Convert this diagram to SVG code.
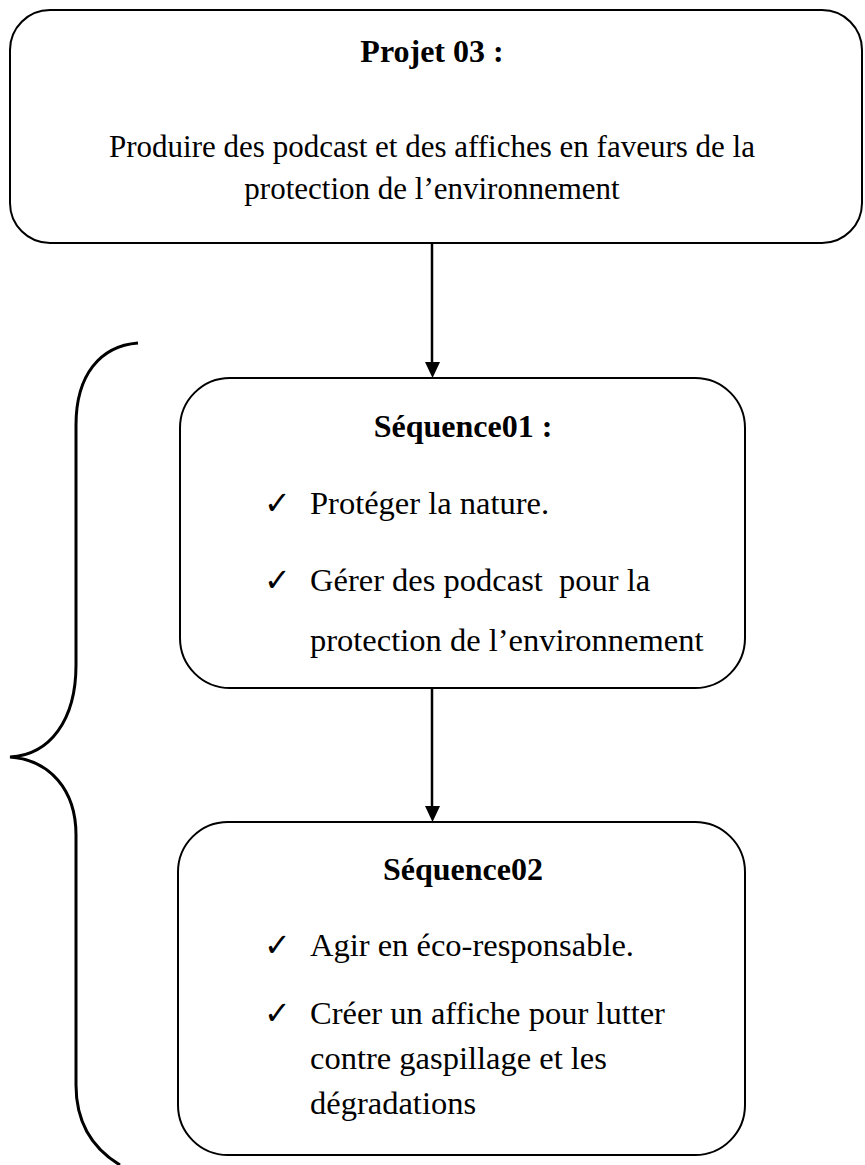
<svg xmlns="http://www.w3.org/2000/svg" width="865" height="1165" viewBox="0 0 865 1165">
<style>
.box{fill:#fff;stroke:#000;stroke-width:2}
.t{font-family:"Liberation Serif","Times New Roman",serif;fill:#000}
.b{font-weight:bold;font-size:32px}
.n{font-size:32.5px}
.tn{font-size:31px}
.ck{font-family:"DejaVu Sans",sans-serif;font-size:32px;fill:#000}
.conn{stroke:#000;stroke-width:2.5;fill:none}
.ah{fill:#000}
</style>
<rect width="865" height="1165" fill="#fff"/>
<g id="connectors">
<line class="conn" x1="432" y1="243" x2="432" y2="364"/>
<path class="ah" d="M425,362 L440,362 L432.5,378 Z"/>
<line class="conn" x1="432" y1="688" x2="432" y2="808"/>
<path class="ah" d="M425,806 L440,806 L432.5,822 Z"/>
</g>
<g id="brace">
<path d="M138,343 C100,346 76,375 76,425 L76,665 C76,720 50,755 10,757 C50,760 76,790 76,835 L76,1085 C76,1125 95,1150 120,1165" fill="none" stroke="#000" stroke-width="3"/>
</g>
<g id="projet">
<rect class="box" x="10" y="10" width="852" height="233" rx="40" ry="40"/>
<text class="t b" x="432" y="62" text-anchor="middle">Projet 03 :</text>
<text class="t tn" x="432" y="157" text-anchor="middle">Produire des podcast et des affiches en faveurs de la</text>
<text class="t tn" x="432" y="199" text-anchor="middle">protection de l’environnement</text>
</g>
<g id="sequence01">
<rect class="box" x="180" y="378" width="565" height="310" rx="50" ry="50"/>
<text class="t b" x="463" y="437" text-anchor="middle">Séquence01 :</text>
<text class="ck" x="264" y="514">✓</text>
<text class="t n" x="310" y="514">Protéger la nature.</text>
<text class="ck" x="264" y="591">✓</text>
<text class="t n" x="310" y="591" xml:space="preserve">Gérer des podcast  pour la</text>
<text class="t n" x="310" y="651">protection de l’environnement</text>
</g>
<g id="sequence02">
<rect class="box" x="178" y="822" width="567" height="333" rx="50" ry="50"/>
<text class="t b" x="463" y="880" text-anchor="middle">Séquence02</text>
<text class="ck" x="264" y="956">✓</text>
<text class="t n" x="310" y="956">Agir en éco-responsable.</text>
<text class="ck" x="264" y="1024">✓</text>
<text class="t n" x="310" y="1024">Créer un affiche pour lutter</text>
<text class="t n" x="310" y="1069">contre gaspillage et les</text>
<text class="t n" x="310" y="1114">dégradations</text>
</g>
</svg>
